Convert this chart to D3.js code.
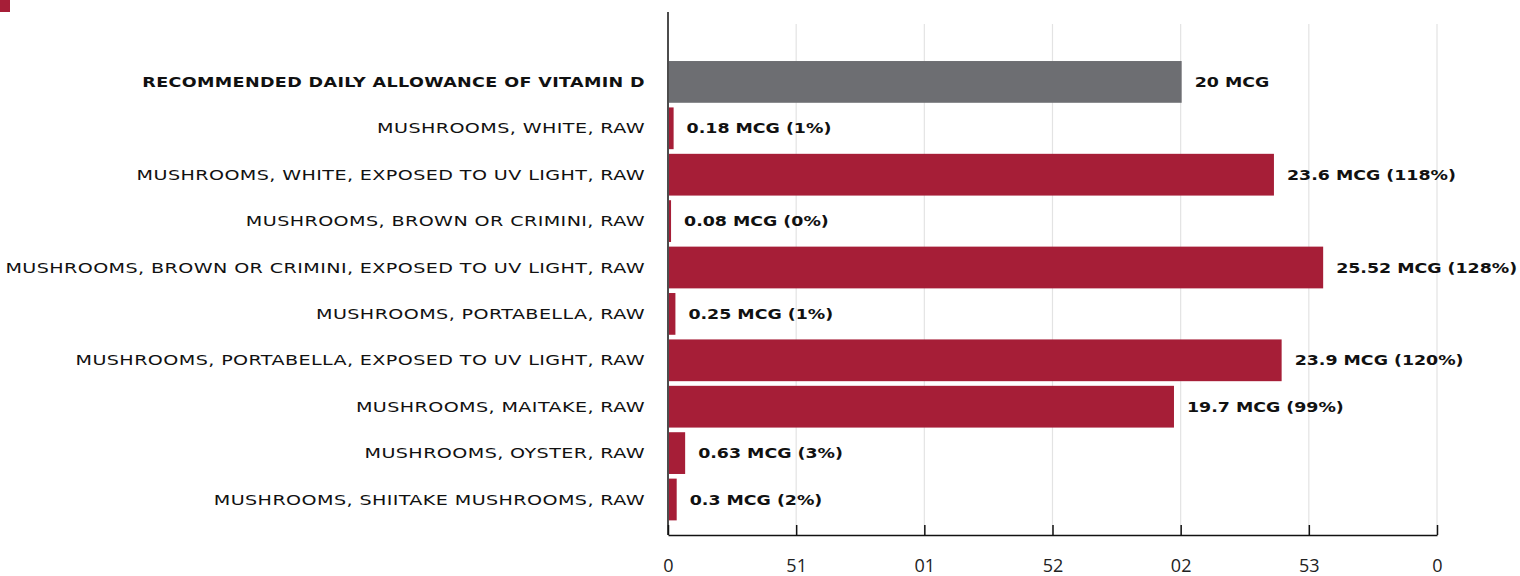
<!DOCTYPE html>
<html>
<head>
<meta charset="utf-8">
<script src="https://cdn.jsdelivr.net/npm/d3@7"></script>
<style>
  body { margin: 0; background: #fff; }
  svg { display: block; }
</style>
</head>
<body>
<script>
// Chart data
var categories = [
  "RECOMMENDED DAILY ALLOWANCE OF VITAMIN D",
  "MUSHROOMS, WHITE, RAW",
  "MUSHROOMS, WHITE, EXPOSED TO UV LIGHT, RAW",
  "MUSHROOMS, BROWN OR CRIMINI, RAW",
  "MUSHROOMS, BROWN OR CRIMINI, EXPOSED TO UV LIGHT, RAW",
  "MUSHROOMS, PORTABELLA, RAW",
  "MUSHROOMS, PORTABELLA, EXPOSED TO UV LIGHT, RAW",
  "MUSHROOMS, MAITAKE, RAW",
  "MUSHROOMS, OYSTER, RAW",
  "MUSHROOMS, SHIITAKE MUSHROOMS, RAW"
];
var values = [20, 0.18, 23.6, 0.08, 25.52, 0.25, 23.9, 19.7, 0.63, 0.3];
var valueLabels = [
  "20 MCG", "0.18 MCG (1%)", "23.6 MCG (118%)", "0.08 MCG (0%)",
  "25.52 MCG (128%)", "0.25 MCG (1%)", "23.9 MCG (120%)",
  "19.7 MCG (99%)", "0.63 MCG (3%)", "0.3 MCG (2%)"
];
var tickValues = [0, 5, 10, 15, 20, 25, 30];
var tickLabels = ["0", "51", "01", "52", "02", "53", "0"];

var W = 1520, H = 576;
var left = 668, right = 1437, axisY = 535;

var svg = d3.select("body").append("svg")
    .attr("width", W)
    .attr("height", H);

// little red corner mark
svg.append("rect")
    .attr("x", 0).attr("y", 0)
    .attr("width", 10).attr("height", 12)
    .attr("fill", "#a61e37");

var x = d3.scaleLinear()
    .domain([0, 30])
    .range([left, right]);

var y = d3.scaleBand()
    .domain(categories)
    .range([58.7, 522.7])
    .paddingInner(0.1)
    .paddingOuter(0.05);

// grid lines
svg.append("g")
  .selectAll("line")
  .data(tickValues.slice(1))
  .enter().append("line")
    .attr("x1", function(d) { return x(d); })
    .attr("x2", function(d) { return x(d); })
    .attr("y1", 24)
    .attr("y2", axisY)
    .attr("stroke", "#e3e3e3")
    .attr("stroke-width", 1.2);

// bars
svg.append("g")
  .selectAll("rect")
  .data(values)
  .enter().append("rect")
    .attr("x", x(0) + 1)
    .attr("y", function(d, i) { return y(categories[i]); })
    .attr("width", function(d) { return x(d) - x(0); })
    .attr("height", y.bandwidth())
    .attr("fill", function(d, i) { return i === 0 ? "#6d6e72" : "#a61e37"; });

// bottom axis, ticks pointing up
var xAxis = svg.append("g")
    .attr("transform", "translate(0," + axisY + ")")
    .call(d3.axisBottom(x)
      .tickValues(tickValues)
      .tickSizeInner(-10)
      .tickSizeOuter(0)
      .tickFormat(function(d, i) { return tickLabels[i]; }));
xAxis.select(".domain").attr("stroke", "#111").attr("stroke-width", 1.5);
xAxis.selectAll(".tick line").attr("stroke", "#111").attr("stroke-width", 1.5);
xAxis.selectAll(".tick text")
    .attr("y", 31)
    .attr("dy", "0.35em")
    .attr("fill", "#222")
    .style("font-family", "'Open Sans', sans-serif")
    .style("font-size", "18px");

// left axis line
svg.append("line")
    .attr("x1", left).attr("x2", left)
    .attr("y1", 12).attr("y2", axisY)
    .attr("stroke", "#111")
    .attr("stroke-width", 1.5);

// category labels (stretched wide like the original typeface)
svg.append("g")
  .selectAll("text")
  .data(categories)
  .enter().append("text")
    .attr("transform", function(d, i) {
      var sx = i === 0 ? 1.21 : 1.32;
      return "translate(645," + (y(d) + y.bandwidth() / 2) + ") scale(" + sx + ",1)";
    })
    .attr("dy", "0.35em")
    .attr("text-anchor", "end")
    .attr("fill", "#111")
    .style("font-family", "'DejaVu Sans', sans-serif")
    .style("font-size", "14.5px")
    .style("font-weight", function(d, i) { return i === 0 ? "bold" : "normal"; })
    .style("letter-spacing", "0.3px")
    .text(function(d) { return d; });

// value labels
svg.append("g")
  .selectAll("text")
  .data(values)
  .enter().append("text")
    .attr("transform", function(d, i) {
      return "translate(" + (x(d) + 14) + "," + (y(categories[i]) + y.bandwidth() / 2) + ") scale(1.2,1)";
    })
    .attr("dy", "0.35em")
    .attr("fill", "#111")
    .style("font-family", "'DejaVu Sans', sans-serif")
    .style("font-size", "14.5px")
    .style("font-weight", "bold")
    .text(function(d, i) { return valueLabels[i]; });
</script>
</body>
</html>
